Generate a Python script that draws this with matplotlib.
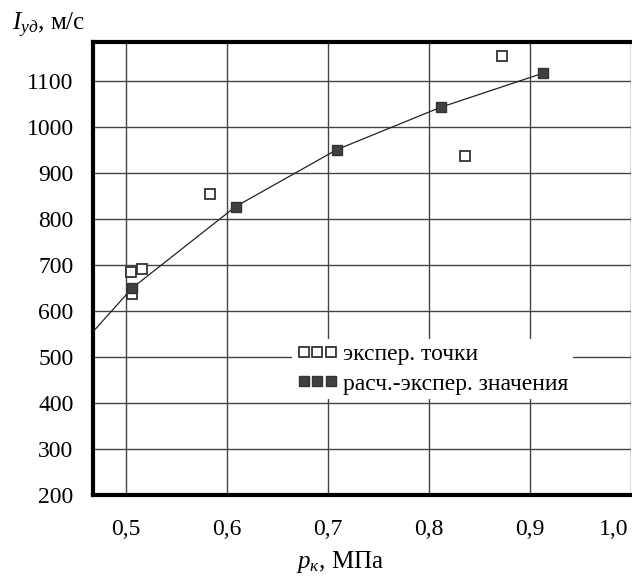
import matplotlib
matplotlib.use('Agg')
import matplotlib.pyplot as plt
from matplotlib.transforms import ScaledTranslation

plt.rcParams['font.family'] = ['Liberation Serif', 'DejaVu Serif']
plt.rcParams['mathtext.fontset'] = 'custom'
plt.rcParams['mathtext.rm'] = 'Liberation Serif'
plt.rcParams['mathtext.it'] = 'Liberation Serif:italic'

# экспер. точки (open squares)
exp_p = [0.505, 0.516, 0.5065, 0.583, 0.836, 0.872]
exp_i = [684, 691, 636, 854, 938, 1154]

# расч.-экспер. значения (filled squares)
calc_p = [0.5065, 0.6087, 0.709, 0.8116, 0.9127]
calc_i = [650, 827, 951, 1043, 1117]

# curve
line_p = [0.4677, 0.5065, 0.6087, 0.709, 0.8116, 0.9127]
line_i = [555, 650, 827, 951, 1043, 1117]

x_ticks = [0.5, 0.6, 0.7, 0.8, 0.9, 1.0]
x_labels = ['0,5', '0,6', '0,7', '0,8', '0,9', '1,0']
y_ticks = [200, 300, 400, 500, 600, 700, 800, 900, 1000, 1100]

fig = plt.figure(figsize=(6.32, 5.79), dpi=100)
ax = fig.add_axes([93 / 632, 1 - 495 / 579, 538 / 632, 453 / 579])

ax.plot(line_p, line_i, color='#222222', lw=0.9, zorder=3)
ax.plot(exp_p, exp_i, ls='none', marker='s', ms=7.3, mfc='white',
        mec='#333333', mew=1.3, zorder=4, label='экспер. точки')
ax.plot(calc_p, calc_i, ls='none', marker='s', ms=7.3, mfc='#404040',
        mec='#333333', mew=1.0, zorder=5, label='расч.-экспер. значения')

ax.set_xlim(0.4677, 1.0)
ax.set_ylim(200, 1185)
ax.set_xticks(x_ticks)
ax.set_xticklabels(x_labels)
ax.set_yticks(y_ticks)
ax.tick_params(length=0, labelsize=17, colors='#000000')
ax.tick_params(axis='x', pad=17)
ax.tick_params(axis='y', pad=14)
for lab in ax.get_xticklabels():
    if lab.get_text() == '1,0':
        lab.set_horizontalalignment('right')
        lab.set_transform(lab.get_transform() +
                          ScaledTranslation(-3 / 100, 0, fig.dpi_scale_trans))
ax.grid(True, color='#444444', lw=1.0)
ax.set_axisbelow(True)

for side in ['left', 'bottom', 'top']:
    ax.spines[side].set_linewidth(3)
    ax.spines[side].set_color('black')
ax.spines['right'].set_visible(False)

leg = ax.legend(loc='upper left', bbox_to_anchor=(0.37, 0.345), numpoints=3,
                handlelength=1.74, handletextpad=0.2, labelspacing=0.35,
                fontsize=17, frameon=True, borderpad=0.2, borderaxespad=0,
                markerscale=1.0)
leg.get_frame().set_edgecolor('none')
leg.get_frame().set_facecolor('white')
leg.get_frame().set_alpha(1)

fig.text(12 / 632, 1 - 25 / 579, r'$I_{уд}$, м/с', fontsize=18, va='center')
fig.text(340 / 632, 1 - 562 / 579, r'$p_{к}$, МПа', fontsize=18,
         ha='center', va='center')

fig.savefig('out.png', dpi=100)
